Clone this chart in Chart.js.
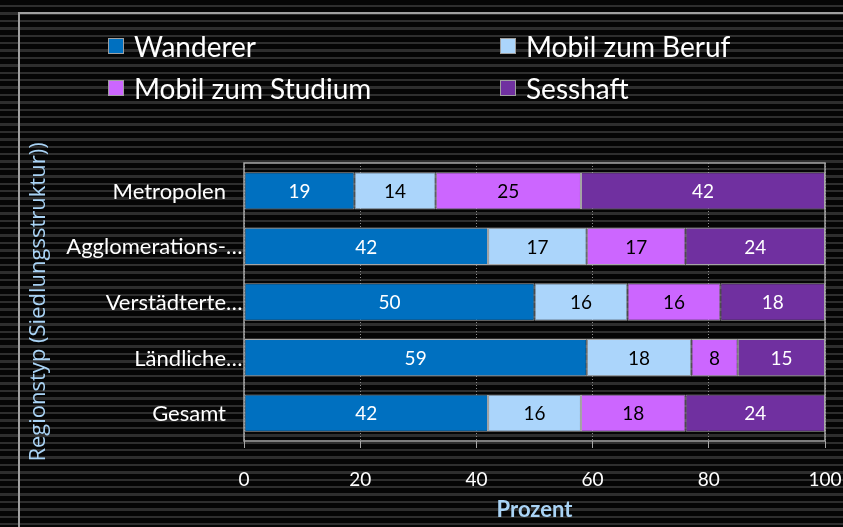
<!DOCTYPE html>
<html>
<head>
<meta charset="utf-8">
<script src="https://cdn.jsdelivr.net/npm/chart.js@4.4.1/dist/chart.umd.min.js"></script>
<style>
    html, body { margin: 0; padding: 0; background: #000; }
    #wrap {
        position: relative; width: 843px; height: 527px; overflow: hidden;
        background: repeating-linear-gradient(to bottom, #050505 0px, #050505 5px, #2e2e2e 5px, #2e2e2e 7.4px);
        font-family: Lato, "Open Sans", sans-serif;
    }
    #frame {
        position: absolute; left: 18px; top: 12px; width: 900px; height: 600px;
        border-left: 2px solid #a0a0a0; border-top: 2px solid #a0a0a0;
    }
    #c { position: absolute; left: 0; top: 0; }
    .lg { position: absolute; display: flex; align-items: center; color: #fff; font-size: 28px; line-height: 1; }
    .lg span.box { width: 16px; height: 16px; border: 1px solid #a0a0a0; box-sizing: border-box; margin-right: 10px; }
</style>
</head>
<body>
<div id="wrap">
    <div id="frame"></div>
    <canvas id="c" width="843" height="527"></canvas>
    <div id="legend"></div>
</div>
<script>
// data
const categories = ["Metropolen", "Agglomerations-…", "Verstädterte…", "Ländliche…", "Gesamt"];
const seriesNames = ["Wanderer", "Mobil zum Beruf", "Mobil zum Studium", "Sesshaft"];
const wanderer = [19, 42, 50, 59, 42];
const mobilBeruf = [14, 17, 16, 18, 16];
const mobilStudium = [25, 17, 16, 8, 18];
const sesshaft = [42, 24, 18, 15, 24];
const xTicks = [0, 20, 40, 60, 80, 100];

const colors = ["#0070c0", "#abd5fb", "#cc66ff", "#7030a0"];
const labelColors = ["#ffffff", "#000000", "#000000", "#ffffff"];
const values = [wanderer, mobilBeruf, mobilStudium, sesshaft];

// html legend, two columns
const legendPos = [
    { left: 108, top: 46 }, { left: 500, top: 46 },
    { left: 108, top: 88 }, { left: 500, top: 88 },
];
const legendEl = document.getElementById("legend");
seriesNames.forEach((name, i) => {
    const d = document.createElement("div");
    d.className = "lg";
    d.style.left = legendPos[i].left + "px";
    d.style.top = (legendPos[i].top - 14) + "px";
    d.style.height = "28px";
    d.innerHTML = `<span class="box" style="background:${colors[i]}"></span><span>${name}</span>`;
    legendEl.appendChild(d);
});

const FONT = "Lato, 'Open Sans', sans-serif";
const GRID = "#a6a6a6";

// plot frame + value labels + category labels (ellipsis hangs past the padding, like excel)
const framePlugin = {
    id: "frame",
    beforeDatasetsDraw(chart) {
        const { ctx, chartArea: a } = chart;
        ctx.save();
        ctx.strokeStyle = GRID;
        ctx.lineWidth = 1.5;
        ctx.strokeRect(a.left, a.top, a.right - a.left, a.bottom - a.top);
        ctx.restore();
    },
};
const valuePlugin = {
    id: "values",
    afterDatasetsDraw(chart) {
        const { ctx } = chart;
        ctx.save();
        ctx.font = "19px " + FONT;
        ctx.textAlign = "center";
        ctx.textBaseline = "middle";
        chart.data.datasets.forEach((ds, i) => {
            const meta = chart.getDatasetMeta(i);
            ctx.fillStyle = labelColors[i];
            meta.data.forEach((el, j) => {
                ctx.fillText(String(ds.data[j]), (el.x + el.base) / 2, el.y + 1);
            });
        });
        ctx.restore();
    },
};
const catPlugin = {
    id: "cats",
    afterDraw(chart) {
        const { ctx, scales: { y }, chartArea: a } = chart;
        const xEnd = a.left - 18;
        ctx.save();
        ctx.font = "22px " + FONT;
        ctx.fillStyle = "#fff";
        ctx.textBaseline = "middle";
        chart.data.labels.forEach((lab, i) => {
            const yy = y.getPixelForValue(i) + 1;
            const cut = lab.endsWith("…");
            const body = cut ? lab.slice(0, -1) : lab;
            ctx.textAlign = "right";
            ctx.fillText(body, xEnd, yy);
            if (cut) {
                ctx.textAlign = "left";
                ctx.fillText("…", xEnd, yy);
            }
        });
        ctx.restore();
    },
};

new Chart(document.getElementById("c"), {
    type: "bar",
    data: {
        labels: categories,
        datasets: seriesNames.map((name, i) => ({
            label: name,
            data: values[i],
            backgroundColor: colors[i],
            borderColor: GRID,
            borderWidth: 1,
            borderSkipped: false,
            categoryPercentage: 1,
            barPercentage: 0.67,
        })),
    },
    options: {
        indexAxis: "y",
        responsive: false,
        animation: false,
        layout: { padding: { left: 0, right: 18, top: 163, bottom: 0 } },
        plugins: { legend: { display: false }, tooltip: { enabled: false } },
        scales: {
            x: {
                stacked: true,
                min: 0,
                max: 100,
                afterBuildTicks: (s) => { s.ticks = xTicks.map((v) => ({ value: v })); },
                afterFit: (s) => { s.height = 86; s.paddingRight = 0; s.paddingLeft = 0; },
                grid: {
                    color: "#8a8a8a",
                    lineWidth: 1,
                    tickLength: 7,
                    tickColor: GRID,
                    tickBorderDash: [],
                },
                border: { display: false, dash: [1, 2] },
                ticks: { color: "#fff", font: { size: 19, family: FONT }, padding: 20 },
                title: {
                    display: true,
                    text: "Prozent",
                    color: "#a9d3f5",
                    font: { size: 22, weight: "bold", family: FONT },
                    padding: { top: 0, bottom: 4 },
                },
            },
            y: {
                stacked: true,
                afterFit: (s) => { s.width = 244; },
                grid: { display: false },
                border: { display: false },
                ticks: { display: false },
                title: {
                    display: true,
                    text: "Regionstyp (Siedlungsstruktur))",
                    color: "#a9d3f5",
                    font: { size: 22, family: "'Open Sans', sans-serif" },
                    padding: { top: 26, bottom: 0 },
                },
            },
        },
    },
    plugins: [framePlugin, valuePlugin, catPlugin],
});
</script>
</body>
</html>
